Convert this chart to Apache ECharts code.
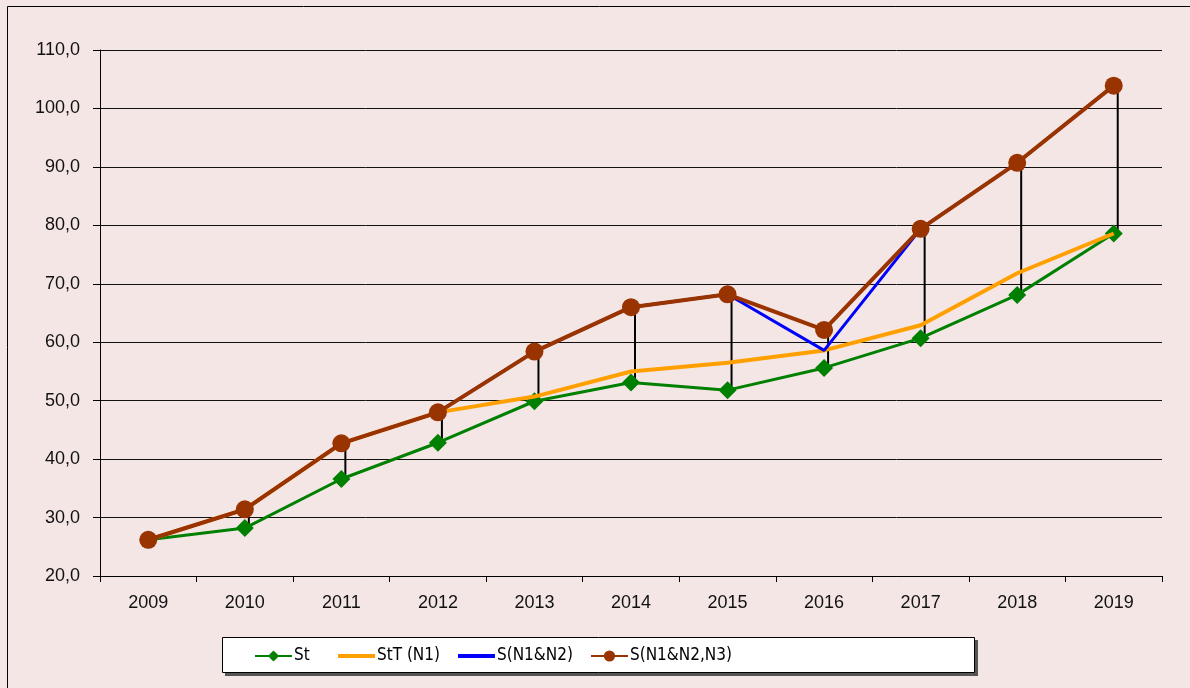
<!DOCTYPE html>
<html>
<head>
<meta charset="utf-8">
<script src="https://cdn.jsdelivr.net/npm/echarts@6/dist/echarts.min.js"></script>
<style>
html, body { margin: 0; padding: 0; background: #f5e6e6; }
#chart { width: 1190px; height: 688px; }
</style>
</head>
<body>
<div id="chart"></div>
<script>
var years = ['2009', '2010', '2011', '2012', '2013', '2014', '2015', '2016', '2017', '2018', '2019'];
var st = [26.2, 28.2, 36.6, 42.8, 49.9, 53.1, 51.8, 55.6, 60.7, 68.1, 78.6];
var stT = [26.2, 31.4, 42.7, 48.0, 50.7, 55.0, 56.5, 58.6, 62.9, 71.8, 78.6];
var sN1N2 = [26.2, 31.4, 42.7, 48.0, 58.4, 66.0, 68.2, 58.6, 79.4, 90.7, 103.9];
var sN1N2N3 = [26.2, 31.4, 42.7, 48.0, 58.4, 66.0, 68.2, 62.1, 79.4, 90.7, 103.9];

var font = 'Liberation Sans, Arial, sans-serif';
var narrow = '"Liberation Sans Narrow", "Arial Narrow", "DejaVu Sans Condensed", sans-serif';

// high-low lines between the lowest and the highest series
var hiLo = [];
for (var i = 0; i < years.length; i++) {
	hiLo.push([i, st[i], sN1N2N3[i]]);
}

function legendAt(name, left, plain) {
	var item = { name : name };
	if (plain) {
		item.icon = 'rect';
	}
	return {
		data : [item],
		left : left,
		top : 644,
		padding : 0,
		height : 24,
		itemWidth : 37,
		itemHeight : plain ? 4 : 14,
		itemGap : 0,
		textStyle : { fontFamily : narrow, fontSize : 17, color : '#000', padding : [0, 0, 0, -3],
			height : 24, lineHeight : 24, verticalAlign : 'middle' }
	};
}

var myChart = echarts.init(document.getElementById('chart'));
myChart.setOption({
	backgroundColor : '#f5e6e6',
	animation : false,
	graphic : [
		{ type : 'rect', shape : { x : 7.5, y : 6.5, width : 1200, height : 700 },
			style : { fill : null, stroke : '#000', lineWidth : 1 }, z : -1 },
		{ type : 'rect', shape : { x : 225, y : 640, width : 753, height : 36 },
			style : { fill : '#555', stroke : null }, z : -1 },
		{ type : 'rect', shape : { x : 222.5, y : 637.5, width : 752, height : 35 },
			style : { fill : '#fff', stroke : '#000', lineWidth : 1 }, z : -1 }
	],
	grid : { left : 100, top : 50, right : 28, bottom : 112 },
	legend : [
		legendAt('St', 254, false),
		legendAt('StT (N1)', 338, true),
		legendAt('S(N1&N2)', 458, true),
		legendAt('S(N1&N2,N3)', 590, false)
	],
	xAxis : {
		type : 'category',
		data : years,
		boundaryGap : true,
		axisLine : { lineStyle : { color : '#000', width : 1 } },
		axisTick : { show : true, length : 6, lineStyle : { color : '#000' } },
		axisLabel : { fontFamily : font, fontSize : 18, color : '#111', margin : 18 },
		splitLine : { show : false }
	},
	yAxis : {
		type : 'value',
		min : 20,
		max : 110,
		interval : 10,
		axisLine : { show : true, lineStyle : { color : '#000', width : 1 } },
		axisTick : { show : true, length : 7, lineStyle : { color : '#000' } },
		axisLabel : {
			fontFamily : font, fontSize : 18, color : '#111', margin : 20,
			formatter : function(v) { return v.toFixed(1).replace('.', ','); }
		},
		splitLine : { show : true, lineStyle : { color : '#111', width : 1 } }
	},
	series : [
		{
			name : 'hilo',
			type : 'custom',
			data : hiLo,
			renderItem : function(params, api) {
				var a = api.coord([api.value(0), api.value(1)]);
				var b = api.coord([api.value(0), api.value(2)]);
				return {
					type : 'line',
					shape : { x1 : a[0] + 4, y1 : a[1], x2 : b[0] + 4, y2 : b[1] },
					style : { stroke : '#000', lineWidth : 2 }
				};
			},
			z : 1,
			silent : true
		},
		{
			name : 'St',
			type : 'line',
			data : st,
			color : '#008000',
			symbol : 'diamond',
			symbolSize : 18,
			lineStyle : { width : 3, color : '#008000' },
			itemStyle : { color : '#008000' },
			z : 2
		},
		{
			name : 'StT (N1)',
			type : 'line',
			data : stT,
			color : '#ffa000',
			symbol : 'none',
			lineStyle : { width : 4, color : '#ffa000' },
			z : 3
		},
		{
			name : 'S(N1&N2)',
			type : 'line',
			data : sN1N2,
			color : '#0000ff',
			symbol : 'none',
			lineStyle : { width : 3, color : '#0000ff' },
			z : 4
		},
		{
			name : 'S(N1&N2,N3)',
			type : 'line',
			data : sN1N2N3,
			color : '#993300',
			symbol : 'circle',
			symbolSize : 18,
			lineStyle : { width : 4, color : '#993300' },
			itemStyle : { color : '#993300' },
			z : 5
		}
	]
});
</script>
</body>
</html>
